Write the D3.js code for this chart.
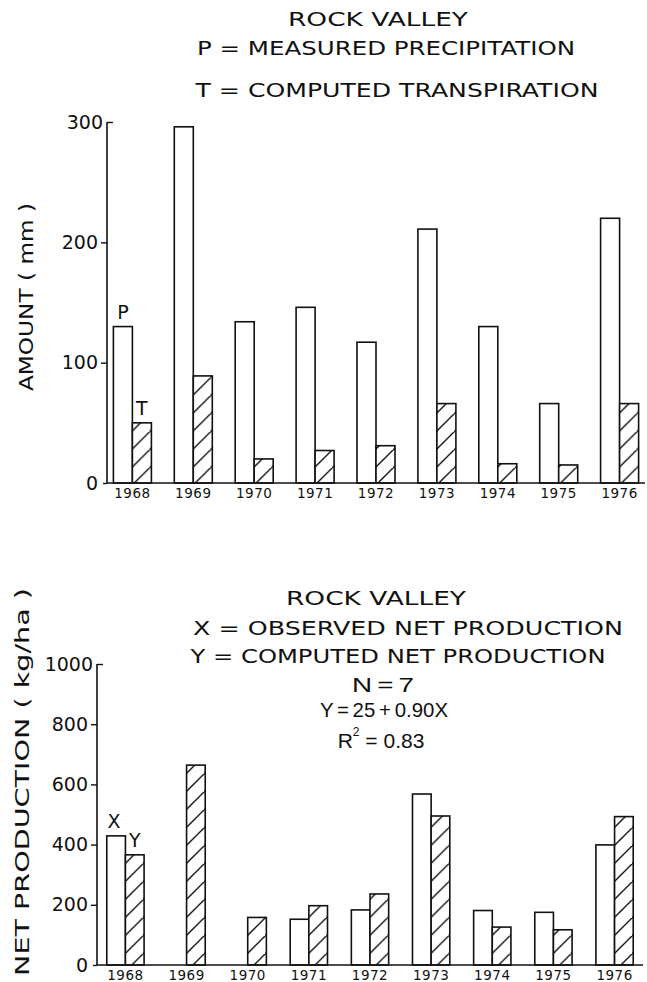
<!DOCTYPE html>
<html>
<head>
<meta charset="utf-8">
<script src="https://cdn.jsdelivr.net/npm/d3@7"></script>
<style>
  html, body { margin: 0; padding: 0; background: #fff; }
  svg { display: block; }
  text { font-family: "DejaVu Sans", "Liberation Sans", sans-serif; fill: #111; }
</style>
</head>
<body>
<svg id="chart" width="647" height="982"></svg>
<script>
// ---- data ----
const years = ["1968","1969","1970","1971","1972","1973","1974","1975","1976"];
const precipitation = [130, 296, 134, 146, 117, 211, 130, 66, 220];
const transpiration = [50, 89, 20, 27, 31, 66, 16, 15, 66];
const observedProd = [429, null, null, 152, 183, 568, 181, 175, 399];
const computedProd = [366, 664, 158, 197, 236, 495, 126, 117, 493];
const topTicks = [0, 100, 200, 300];
const bottomTicks = [0, 200, 400, 600, 800, 1000];
const topTitles = ["ROCK VALLEY", "P = MEASURED PRECIPITATION", "T = COMPUTED TRANSPIRATION"];
const bottomTitles = ["ROCK VALLEY", "X = OBSERVED NET PRODUCTION", "Y = COMPUTED NET PRODUCTION"];
const statLines = ["N = 7", "Y = 25 + 0.90X"];

const svg = d3.select("#chart");
const ink = "#111";

// hatch pattern
const defs = svg.append("defs");
const pat = defs.append("pattern").attr("id", "hatch")
  .attr("patternUnits", "userSpaceOnUse").attr("width", 18).attr("height", 18);
pat.append("rect").attr("width", 18).attr("height", 18).attr("fill", "#fff");
pat.append("path").attr("d", "M-2,20 L20,-2 M-20,20 L2,-2 M16,38 L38,16")
  .attr("stroke", ink).attr("stroke-width", 1.4);

function drawTitle(lines, ys, xs, lens, size, family, ws) {
  lines.forEach((t, i) => {
    const el = svg.append("text").attr("x", xs[i]).attr("y", ys[i])
      .attr("text-anchor", "middle").attr("dominant-baseline", "central")
      .attr("font-size", size).attr("textLength", lens[i]).attr("lengthAdjust", "spacingAndGlyphs")
      .text(t);
    if (family) el.style("font-family", family);
    if (ws) el.attr("word-spacing", ws);
  });
}

function panel(opts) {
  const { ticks, yDomain, yRange, xRange, pin, pout, s1, s2, axisX, labels, yLabel, yLabelX, yLabelY, yLabelLen } = opts;
  const x = d3.scaleBand().domain(years).range(xRange).paddingInner(pin).paddingOuter(pout);
  const sub = d3.scaleBand().domain(["a", "b"]).range([0, x.bandwidth()]);
  const y = d3.scaleLinear().domain(yDomain).range(yRange);
  const g = svg.append("g");

  // bars
  const rows = years.map((yr, i) => ({ yr, a: s1[i], b: s2[i] }));
  const grp = g.selectAll(".grp").data(rows).join("g").attr("transform", d => `translate(${x(d.yr)},0)`);
  grp.filter(d => d.a != null).append("rect")
    .attr("x", sub("a")).attr("width", sub.bandwidth())
    .attr("y", d => y(d.a)).attr("height", d => y(0) - y(d.a))
    .attr("fill", "#fff").attr("stroke", ink).attr("stroke-width", 1.6);
  grp.filter(d => d.b != null).append("rect")
    .attr("x", sub("b")).attr("width", sub.bandwidth())
    .attr("y", d => y(d.b)).attr("height", d => y(0) - y(d.b))
    .attr("fill", "url(#hatch)").attr("stroke", ink).attr("stroke-width", 1.6);

  // y axis
  const ya = g.append("g").attr("transform", `translate(${axisX},0)`)
    .call(d3.axisLeft(y).tickValues(ticks).tickFormat(d3.format("d")).tickSize(6).tickPadding(3).tickSizeOuter(0));
  ya.select(".domain").remove();
  ya.selectAll(".tick line").attr("stroke", ink).attr("stroke-width", 1.4);
  ya.selectAll(".tick text").attr("font-size", 19).attr("fill", ink).style("font-family", "DejaVu Sans, sans-serif");
  ya.selectAll(".tick").filter(d => d === yDomain[1]).select("line").attr("x2", 6);
  ya.selectAll(".tick").filter(d => d === yDomain[1]).select("text").attr("x", -4);
  ya.selectAll(".tick").filter(d => d === 0).select("line").attr("x2", -4);
  g.append("line").attr("x1", axisX).attr("x2", axisX).attr("y1", y(0)).attr("y2", y(yDomain[1]))
    .attr("stroke", ink).attr("stroke-width", 1.6);

  // x baseline
  g.append("line").attr("x1", axisX).attr("x2", xRange[1]).attr("y1", y(0)).attr("y2", y(0))
    .attr("stroke", ink).attr("stroke-width", 1.6);

  // x labels
  const xa = g.append("g").attr("transform", `translate(0,${y(0)})`)
    .call(d3.axisBottom(x).tickSize(0).tickPadding(5));
  xa.select(".domain").remove();
  xa.selectAll(".tick text").attr("font-size", 13.5).attr("fill", ink).style("font-family", "DejaVu Sans, sans-serif")
    .attr("letter-spacing", 0.5);

  // series markers
  labels.forEach(l => {
    const v = l.series === "a" ? s1[0] : s2[0];
    g.append("text").attr("x", x(years[0]) + sub(l.series) + sub.bandwidth() / 2 + (l.dx || 0))
      .attr("y", y(v) - 8).attr("text-anchor", "middle").attr("font-size", 19).text(l.text);
  });

  // y label
  g.append("text").attr("transform", `translate(${yLabelX},${yLabelY}) rotate(-90)`)
    .attr("text-anchor", "middle").attr("dominant-baseline", "central").attr("font-size", 19)
    .attr("textLength", yLabelLen).attr("lengthAdjust", "spacingAndGlyphs").text(yLabel);
  return { x, y };
}

// top chart
panel({
  ticks: topTicks, yDomain: [0, 300], yRange: [483, 122], xRange: [107, 645], pin: 0.376, pout: 0.105,
  s1: precipitation, s2: transpiration, axisX: 107,
  labels: [{ series: "a", text: "P" }, { series: "b", text: "T" }],
  yLabel: "AMOUNT ( mm )", yLabelX: 26, yLabelY: 297, yLabelLen: 188
});
drawTitle(topTitles, [19, 48, 90], [378, 386, 397], [180, 378, 403], 20);

// bottom chart
panel({
  ticks: bottomTicks, yDomain: [0, 1000], yRange: [965, 664], xRange: [97, 643], pin: 0.39, pout: 0.16,
  s1: observedProd, s2: computedProd, axisX: 97,
  labels: [{ series: "a", text: "X", dx: -2 }, { series: "b", text: "Y", dx: 0 }],
  yLabel: "NET PRODUCTION ( kg/ha )", yLabelX: 22, yLabelY: 782, yLabelLen: 388
});
drawTitle(bottomTitles, [598, 628, 656], [376, 408, 398], [180, 430, 415], 20);
drawTitle(statLines, [684, 709], [383, 384], [62, 128], 21, "Liberation Sans, Arial, sans-serif", -2);
// R^2 line
const r2 = svg.append("text").attr("x", 381).attr("y", 740).attr("text-anchor", "middle")
  .attr("dominant-baseline", "central").attr("font-size", 21).style("font-family", "Liberation Sans, Arial, sans-serif");
r2.append("tspan").text("R");
r2.append("tspan").attr("font-size", 12).attr("dy", -8).text("2");
r2.append("tspan").attr("dy", 8).text(" = 0.83");
</script>
</body>
</html>
